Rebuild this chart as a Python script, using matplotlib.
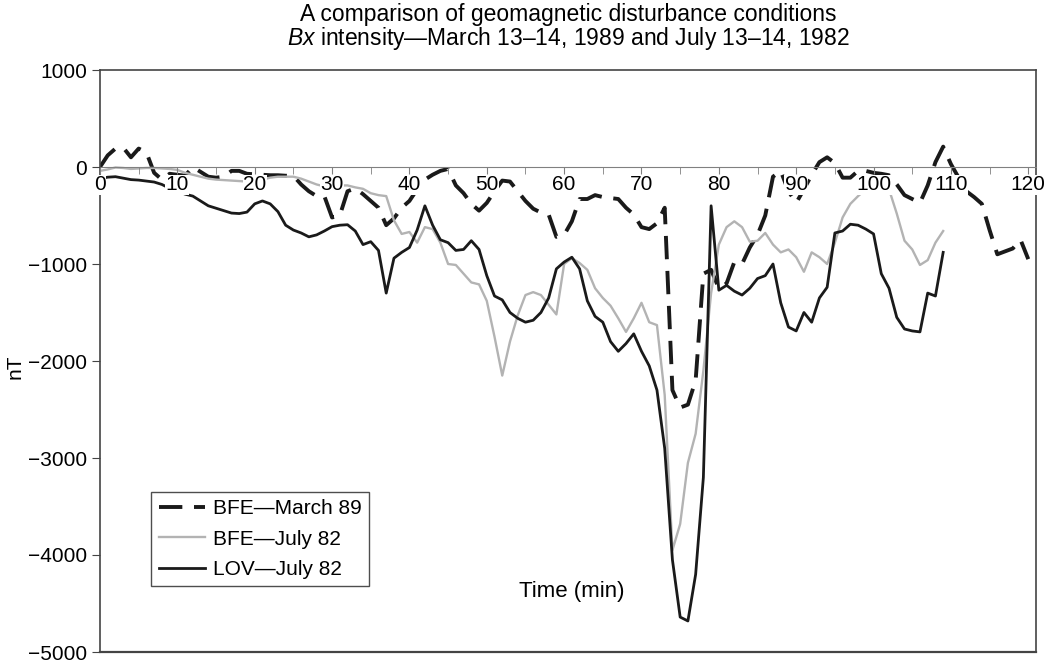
import numpy as np
import matplotlib
matplotlib.use("Agg")
import matplotlib.pyplot as plt

plt.rcParams["font.family"] = ["Liberation Sans", "DejaVu Sans"]
plt.rcParams["mathtext.fontset"] = "custom"
plt.rcParams["mathtext.it"] = "Liberation Sans:italic"
plt.rcParams["mathtext.rm"] = "Liberation Sans"

# minutes 0..120
minutes = np.arange(0, 121)

bfe_march89 = [
    0, 120, 190, 200, 100, 190, 150, -60, -130, -70,
    -80, -90, 0, -50, -100, -110, -100, -40, -40, -70,
    -75, -80, -85, -85, -90, -90, -180, -250, -300, -300,
    -520, -500, -250, -220, -280, -350, -420, -600, -530, -420,
    -350, -230, -130, -80, -40, -20, -190, -270, -380, -450,
    -370, -250, -140, -150, -250, -350, -430, -470, -490, -720,
    -700, -560, -330, -330, -290, -310, -320, -330, -420, -490,
    -620, -640, -580, -420, -2300, -2480, -2450, -2200, -1100, -1060,
    -1250, -1200, -980, -1000, -830, -700, -500, -100, -40, -250,
    -370, -230, -80, 50, 100, 40, -110, -110, -40, -40,
    -60, -70, -85, -180, -290, -330, -370, -190, 50, 210,
    30, -110, -250, -310, -380, -650, -900, -870, -840, -750,
    -950,
]

bfe_july82 = [
    -40, -25, -5, -10, -20, -15, -10, -10, -15, -20,
    -30, -60, -80, -100, -120, -130, -135, -140, -145, -150,
    -145, -130, -110, -100, -100, -100, -120, -150, -180, -200,
    -200, -190, -190, -210, -225, -270, -290, -300, -550, -690,
    -670, -780, -620, -640, -780, -1000, -1010, -1100, -1190, -1210,
    -1380, -1750, -2150, -1800, -1530, -1320, -1290, -1320, -1420, -1520,
    -1000, -940, -990, -1060, -1250, -1350, -1430, -1560, -1700, -1560,
    -1400, -1600, -1630, -2350, -3950, -3680, -3050, -2750, -2100, -1300,
    -800, -620, -560, -620, -770, -760, -680, -800, -880, -850,
    -930, -1080, -880, -930, -1000, -780, -520, -380, -300, -230,
    -200, -200, -230, -480, -760, -850, -1010, -960, -780, -660,
] + [np.nan] * 11

lov_july82 = [
    -120, -105, -100, -115, -130, -135, -145, -155, -180, -220,
    -250, -280, -300, -350, -400, -425, -450, -475, -480, -465,
    -380, -350, -380, -460, -600, -650, -680, -720, -700, -660,
    -615, -600, -595, -660, -800, -770, -860, -1300, -940, -880,
    -830, -650, -400, -600, -750, -780, -860, -850, -760, -850,
    -1120, -1330, -1370, -1500, -1560, -1600, -1580, -1500, -1350, -1050,
    -980, -930, -1050, -1380, -1540, -1600, -1800, -1900, -1820, -1720,
    -1900, -2050, -2300, -2900, -4050, -4640, -4680, -4200, -3200, -400,
    -1270, -1220, -1280, -1320, -1250, -1150, -1120, -1000, -1400, -1650,
    -1690, -1500, -1600, -1350, -1240, -680, -660, -590, -600, -640,
    -690, -1100, -1250, -1550, -1670, -1690, -1700, -1300, -1330, -880,
] + [np.nan] * 11

fig = plt.figure(figsize=(10.52, 6.62), dpi=100)
ax = fig.add_axes([100 / 1052, 1 - 652 / 662, 936 / 1052, 582 / 662])

ax.plot(minutes, bfe_march89, color="#1a1a1a", lw=2.8, ls=(0, (6, 3)),
        label="BFE\u2014March 89")
ax.plot(minutes, bfe_july82, color="#b3b3b3", lw=1.7, label="BFE\u2014July 82")
ax.plot(minutes, lov_july82, color="#1a1a1a", lw=2.0, label="LOV\u2014July 82")

ax.set_xlim(0, 121)
ax.set_ylim(-5000, 1000)

# x axis sits on the zero line, the box is closed underneath
ax.spines["bottom"].set_position(("data", 0))
ax.spines["bottom"].set_color("#808080")
for s in ["left", "top", "right"]:
    ax.spines[s].set_color("#444444")
    ax.spines[s].set_linewidth(1.2)
ax.plot([0, 1], [0, 0], transform=ax.transAxes, color="#444444", lw=1.6,
        clip_on=False)

ax.set_xticks(range(0, 121, 10))
ax.set_xticks(range(0, 121, 5), minor=True)
ax.set_yticks(range(-5000, 1001, 1000))
ax.set_yticklabels([f"{v}".replace("-", "\u2212") for v in range(-5000, 1001, 1000)])
ax.tick_params(axis="x", which="both", direction="out", length=5, color="#808080",
               labelsize=15, pad=1)
ax.tick_params(axis="y", direction="out", length=6, color="#444444", labelsize=15)
ax.set_axisbelow(False)
for lab in ax.get_xticklabels():
    lab.set_bbox(dict(facecolor="white", edgecolor="none", pad=0.3))

ax.set_ylabel("nT", fontsize=15)
ax.yaxis.set_label_coords(-0.081, 0.49)
ax.text(61, -4380, "Time (min)", ha="center", va="center", fontsize=16)

fig.text(568 / 1052, 1 - 15 / 662, "A comparison of geomagnetic disturbance conditions",
         ha="center", va="center", fontsize=16.5)
fig.text(568 / 1052, 1 - 38 / 662,
         r"$\mathit{Bx}$ intensity" + "\u2014March 13\u201314, 1989 and July 13\u201314, 1982",
         ha="center", va="center", fontsize=16.5)

leg = ax.legend(loc="upper left", bbox_to_anchor=(0.055, 0.275), fontsize=15,
                frameon=True, fancybox=False, handlelength=2.2, borderpad=0.35,
                labelspacing=0.55, handletextpad=0.4, borderaxespad=0)
leg.get_frame().set_edgecolor("#222222")
leg.get_frame().set_linewidth(1.0)

fig.savefig("out.png", dpi=100)
